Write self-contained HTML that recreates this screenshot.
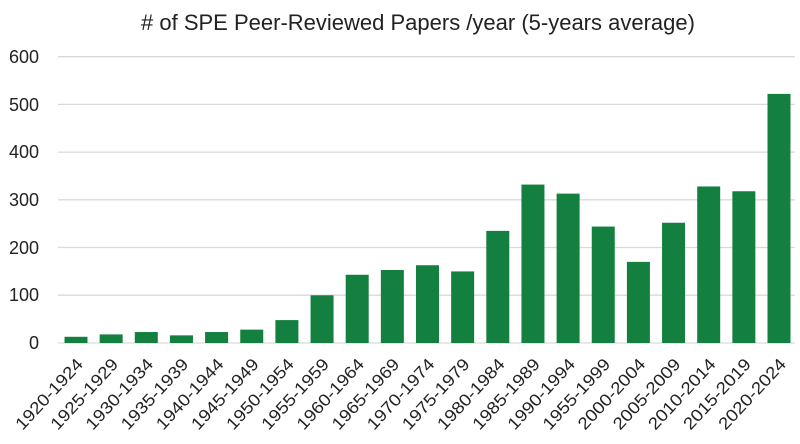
<!DOCTYPE html>
<html><head><style>body{margin:0;background:#fff}svg{display:block}</style></head><body>
<svg width="800" height="444" xmlns="http://www.w3.org/2000/svg" font-family="Liberation Sans, sans-serif">
<text x="418" y="30" font-size="22" text-anchor="middle" fill="#222"># of SPE Peer-Reviewed Papers /year (5-years average)</text>
<g stroke="#d9d9d9" stroke-width="1.3">
<line x1="58" x2="795" y1="56.7" y2="56.7"/><line x1="58" x2="795" y1="104.4" y2="104.4"/><line x1="58" x2="795" y1="152.1" y2="152.1"/><line x1="58" x2="795" y1="199.8" y2="199.8"/><line x1="58" x2="795" y1="247.5" y2="247.5"/><line x1="58" x2="795" y1="295.2" y2="295.2"/><line x1="58" x2="795" y1="343" y2="343"/>
</g>
<g font-size="18" fill="#222" text-anchor="end">
<text x="39" y="63">600</text><text x="39" y="111">500</text><text x="39" y="158">400</text><text x="39" y="206">300</text><text x="39" y="254">200</text><text x="39" y="301">100</text><text x="39" y="349">0</text>
</g>
<g id="bars" fill="#138040"></g>
<g id="labels" font-size="17" fill="#222" text-anchor="end"></g>
<script>
var v=[13,18,23,16,23,28,48,100,143,153,163,150,235,332,313,244,170,252,328,318,522];
var l=["1920-1924","1925-1929","1930-1934","1935-1939","1940-1944","1945-1949","1950-1954","1955-1959","1960-1964","1965-1969","1970-1974","1975-1979","1980-1984","1985-1989","1990-1994","1955-1999","2000-2004","2005-2009","2010-2014","2015-2019","2020-2024"];
var ns="http://www.w3.org/2000/svg",b=document.getElementById("bars"),t=document.getElementById("labels");
for(var i=0;i<21;i++){var cx=76+i*35.15,h=v[i]*0.4772;
var r=document.createElementNS(ns,"rect");r.setAttribute("x",cx-11.5);r.setAttribute("width",23);r.setAttribute("y",343-h);r.setAttribute("height",h);b.appendChild(r);
var s=document.createElementNS(ns,"text");s.setAttribute("transform","translate("+(cx+8)+",365) rotate(-47)");s.setAttribute("textLength","90");s.setAttribute("lengthAdjust","spacingAndGlyphs");s.textContent=l[i];t.appendChild(s);}
</script>
</svg>
</body></html>
